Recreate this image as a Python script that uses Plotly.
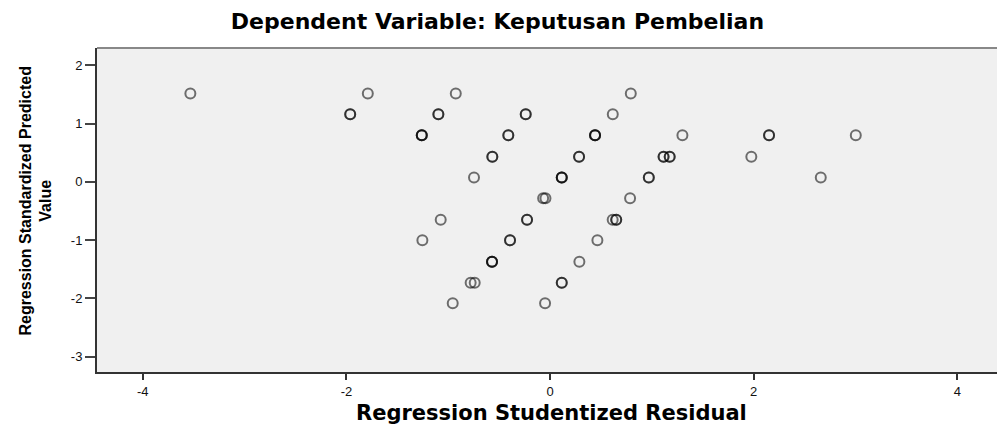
import plotly.graph_objects as go

# Regression Standardized Predicted Value rows (SPSS scatter)
predicted_rows = [1.517, 1.160, 0.800, 0.432, 0.075, -0.281, -0.649, -1.002, -1.369, -1.730, -2.083]

# Studentized residuals for each row (duplicates = overlapping cases)
residuals_by_row = [
    [-3.533, -1.790, -0.926, 0.793],
    [-1.963, -1.963, -1.097, -1.097, -0.239, -0.239, 0.616],
    [-1.260, -1.260, -1.260, -0.410, -0.410, 0.442, 0.442, 0.442, 1.300, 2.151, 2.151, 3.003],
    [-0.567, -0.567, 0.285, 0.285, 1.115, 1.115, 1.175, 1.175, 1.977],
    [-0.747, 0.115, 0.115, 0.115, 0.970, 0.970, 2.659],
    [-0.068, -0.045, 0.786],
    [-1.074, -0.226, -0.226, 0.615, 0.650, 0.650],
    [-1.254, -0.393, -0.393, 0.465],
    [-0.570, -0.570, -0.570, 0.288],
    [-0.780, -0.740, 0.115, 0.115],
    [-0.956, -0.049],
]

x_ticks = [-4, -2, 0, 2, 4]
y_ticks = [-3, -2, -1, 0, 1, 2]

title_text = "Dependent Variable: Keputusan Pembelian"
x_title = "Regression Studentized Residual"
y_title = "Regression Standardized Predicted<br>Value"

xs, ys = [], []
for yv, row in zip(predicted_rows, residuals_by_row):
    for xv in row:
        xs.append(xv)
        ys.append(yv)

fig = go.Figure()
fig.add_trace(go.Scatter(
    x=xs, y=ys, mode="markers",
    marker=dict(symbol="circle", size=10, color="rgba(0,0,0,0)",
                line=dict(color="rgba(0,0,0,0.55)", width=2)),
    hoverinfo="x+y", showlegend=False,
))

axis_font = dict(family="Liberation Sans, Arial, sans-serif", size=13, color="#111")

fig.update_layout(
    width=997, height=430,
    margin=dict(l=97, r=0, t=48, b=58),
    paper_bgcolor="white",
    plot_bgcolor="#f0f0f0",
    title=dict(text="<b>" + title_text + "</b>", x=0.499, xanchor="center",
               y=1 - 21 / 430, yanchor="middle", yref="container",
               font=dict(family="DejaVu Sans, sans-serif", size=22, color="black")),
    xaxis=dict(range=[-4.45, 4.39], tickvals=x_ticks, ticktext=[str(v) for v in x_ticks],
               showgrid=False, zeroline=False, showline=True, linecolor="#333", linewidth=2,
               ticks="outside", ticklen=6, tickwidth=2, tickcolor="#333",
               tickfont=axis_font),
    yaxis=dict(range=[-3.262, 2.297], tickvals=y_ticks, ticktext=[str(v) for v in y_ticks],
               showgrid=False, zeroline=False, showline=True, linecolor="#333", linewidth=2,
               ticks="outside", ticklen=10, tickwidth=1.5, tickcolor="#444",
               tickfont=axis_font),
    shapes=[dict(type="line", xref="paper", yref="paper", x0=0, x1=1, y0=1, y1=1,
                 line=dict(color="#888", width=2))],
    annotations=[
        dict(text="<b>" + x_title + "</b>", xref="paper", yref="paper",
             x=(551 - 97) / 900, y=(372 - 413) / 324, xanchor="center", yanchor="middle",
             showarrow=False,
             font=dict(family="DejaVu Sans, sans-serif", size=21, color="black")),
        dict(text="<b>" + y_title + "</b>", xref="paper", yref="paper",
             x=(35 - 97) / 900, y=(372 - 201.5) / 324, xanchor="center", yanchor="middle",
             textangle=-90, showarrow=False,
             font=dict(family="Liberation Sans, Arial, sans-serif", size=16, color="black")),
    ],
)

fig.write_html("out.html", config={"displayModeBar": False},
               post_script="document.body.style.margin='0';")
